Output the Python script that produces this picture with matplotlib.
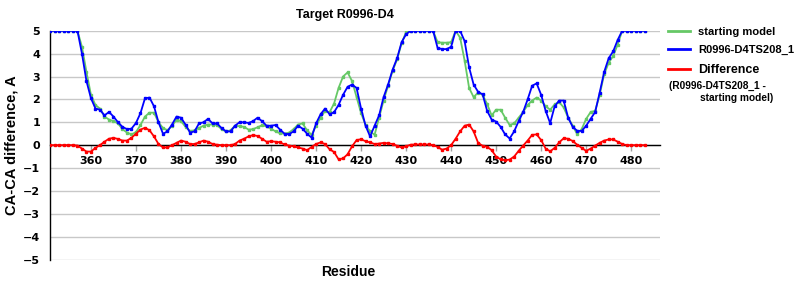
import matplotlib
matplotlib.use("Agg")
import matplotlib.pyplot as plt

# Residue numbers (categories)
residues = list(range(351, 484))

# CA-CA difference, starting model
starting_model = [
    5, 5, 5, 5, 5, 5, 5, 4.3, 3.2, 2.2,              # 351-360
    1.75, 1.6, 1.25, 1.12, 1.05, 0.95, 0.7, 0.55, 0.47, 0.57,  # 361-370
    0.88, 1.25, 1.42, 1.42, 1.0, 0.75, 0.65, 0.85, 1.1, 1.05,  # 371-380
    0.8, 0.62, 0.65, 0.75, 0.85, 0.9, 0.9, 0.88, 0.7, 0.6,     # 381-390
    0.65, 0.85, 0.83, 0.8, 0.68, 0.7, 0.78, 0.87, 0.82, 0.72,  # 391-400
    0.6, 0.52, 0.5, 0.55, 0.7, 0.9, 0.95, 0.65, 0.45, 0.85,    # 401-410
    1.2, 1.5, 1.44, 1.82, 2.5, 3.0, 3.18, 2.8, 2.1, 1.4,       # 411-420
    0.88, 0.6, 0.45, 1.2, 1.95, 2.6, 3.25, 3.75, 4.45, 4.95,   # 421-430
    5, 5, 5, 5, 5, 5, 4.5, 4.48, 4.48, 4.5,                    # 431-440
    5, 4.7, 3.7, 2.5, 2.1, 2.3, 2.2, 1.8, 1.3, 1.55,           # 441-450
    1.55, 1.2, 0.88, 0.95, 1.2, 1.45, 1.75, 1.95, 2.08, 1.95,  # 451-460
    1.7, 1.55, 1.78, 1.88, 1.65, 1.2, 0.85, 0.48, 0.7, 1.15,   # 461-470
    1.45, 1.5, 2.2, 3.1, 3.6, 3.9, 4.4, 5, 5, 5,               # 471-480
    5, 5, 5,                                                   # 481-483
]

# CA-CA difference, model R0996-D4TS208_1
model = [
    5, 5, 5, 5, 5, 5, 5, 4.0, 2.8, 2.05,             # 351-360
    1.6, 1.55, 1.3, 1.45, 1.25, 1.0, 0.8, 0.7, 0.72, 0.97,     # 361-370
    1.4, 2.05, 2.08, 1.7, 1.0, 0.5, 0.6, 0.9, 1.25, 1.2,       # 371-380
    0.9, 0.55, 0.6, 0.95, 1.0, 1.15, 0.95, 0.95, 0.75, 0.6,    # 381-390
    0.6, 0.85, 1.0, 1.0, 0.97, 1.05, 1.2, 1.05, 0.85, 0.85,    # 391-400
    0.88, 0.68, 0.5, 0.48, 0.6, 0.85, 0.72, 0.5, 0.33, 0.95,   # 401-410
    1.35, 1.6, 1.35, 1.44, 1.76, 2.2, 2.55, 2.65, 2.5, 1.6,    # 411-420
    0.85, 0.38, 0.85, 1.3, 2.1, 2.65, 3.3, 3.8, 4.5, 4.85,     # 421-430
    5, 5, 5, 5, 5, 5, 4.25, 4.2, 4.2, 4.3,                     # 431-440
    5, 5, 4.55, 3.4, 2.65, 2.33, 2.22, 1.5, 1.12, 1.03,        # 441-450
    0.8, 0.47, 0.29, 0.6, 1.05, 1.45, 2.0, 2.6, 2.7, 2.2,      # 451-460
    1.5, 0.96, 1.7, 1.95, 1.95, 1.2, 0.8, 0.63, 0.62, 0.85,    # 461-470
    1.15, 1.45, 2.3, 3.2, 3.8, 4.1, 4.6, 5, 5, 5,              # 471-480
    5, 5, 5,                                                   # 481-483
]

# Difference (model - starting model)
difference = [
    0, 0, 0, 0, 0, 0, -0.02, -0.15, -0.28, -0.28,              # 351-360
    -0.12, 0.0, 0.15, 0.28, 0.32, 0.27, 0.2, 0.2, 0.32, 0.5,   # 361-370
    0.68, 0.76, 0.65, 0.38, 0.05, -0.1, -0.1, 0.0, 0.1, 0.2,   # 371-380
    0.15, 0.05, 0.05, 0.12, 0.2, 0.15, 0.05, 0.02, 0.0, 0.0,   # 381-390
    0.0, 0.05, 0.2, 0.28, 0.38, 0.44, 0.4, 0.28, 0.15, 0.17,   # 391-400
    0.15, 0.12, 0.03, -0.02, -0.05, -0.1, -0.15, -0.22, -0.08, 0.05,  # 401-410
    0.12, 0.05, -0.18, -0.3, -0.62, -0.58, -0.4, -0.05, 0.22, 0.26,   # 411-420
    0.17, 0.12, 0.05, 0.07, 0.1, 0.08, 0.05, -0.03, -0.1, -0.05,      # 421-430
    0.02, 0.03, 0.03, 0.03, 0.03, 0.0, -0.08, -0.2, -0.15, 0.0,       # 431-440
    0.28, 0.6, 0.85, 0.9, 0.6, 0.1, -0.03, -0.07, -0.22, -0.5,        # 441-450
    -0.62, -0.66, -0.63, -0.5, -0.25, -0.02, 0.2, 0.45, 0.47, 0.22,   # 451-460
    -0.15, -0.27, -0.12, 0.12, 0.3, 0.28, 0.18, 0.02, -0.12, -0.25,   # 461-470
    -0.15, -0.02, 0.1, 0.2, 0.25, 0.25, 0.15, 0.05, 0, 0,             # 471-480
    0, 0, 0,                                                          # 481-483
]

x_ticks = [360, 370, 380, 390, 400, 410, 420, 430, 440, 450, 460, 470, 480]
y_ticks = [-5, -4, -3, -2, -1, 0, 1, 2, 3, 4, 5]

title = "Target R0996-D4"
series_labels = ["starting model", "R0996-D4TS208_1", "Difference"]
diff_note = ["(R0996-D4TS208_1 -", "starting model)"]

GREEN = "#66c866"
BLUE = "#0000ff"
RED = "#ff0000"
ARIAL = ["Liberation Sans", "DejaVu Sans"]

fig = plt.figure(figsize=(8, 3), dpi=100)
ax = fig.add_axes([50 / 800, 1 - 259.5 / 300, 610 / 800, (259.5 - 30.8) / 300])

ax.set_xlim(350.9, 486.4)
ax.set_ylim(-5, 5)

ax.plot(residues, starting_model, color=GREEN, lw=1.3, marker="s", ms=1.5,
        mec=GREEN, label=series_labels[0], zorder=3)
ax.plot(residues, model, color=BLUE, lw=1.3, marker="s", ms=1.5,
        mec=BLUE, label=series_labels[1], zorder=4)
ax.plot(residues, difference, color=RED, lw=1.3, marker="s", ms=1.5,
        mec=RED, label=series_labels[2], zorder=5)

# axes styling
ax.set_yticks(y_ticks)
ax.set_yticklabels([("\u2212%d" % -v) if v < 0 else "%d" % v for v in y_ticks])
ax.set_xticks(x_ticks)
ax.set_xticklabels([str(v) for v in x_ticks])
ax.grid(axis="y", color="#c8c8c8", lw=1.0, zorder=0)
ax.set_axisbelow(True)
for s in ("top", "right"):
    ax.spines[s].set_visible(False)
ax.spines["bottom"].set_position(("data", 0))
ax.spines["bottom"].set_color("black")
ax.spines["bottom"].set_linewidth(1.0)
ax.spines["bottom"].set_zorder(2)
ax.spines["left"].set_color("black")
ax.spines["left"].set_linewidth(1.0)
ax.tick_params(axis="x", direction="out", length=4, width=1, color="#a0a0a0",
               pad=3.5, labelsize=8)
ax.tick_params(axis="y", direction="out", length=0, pad=7, labelsize=8)
for lab in ax.get_xticklabels() + ax.get_yticklabels():
    lab.set_fontweight("bold")
    lab.set_family("DejaVu Sans")

ax.set_ylabel("CA-CA difference, A", fontsize=10.5, fontweight="bold", family=ARIAL)
ax.yaxis.set_label_coords(-0.052, 0.5)
ax.set_xlabel("Residue", fontsize=10, fontweight="bold", family=ARIAL)
ax.xaxis.set_label_coords(0.489, -0.025)

fig.text(345 / 800, 1 - 15 / 300, title, ha="center", va="center",
         fontsize=9, fontweight="bold", family=ARIAL)

leg = ax.legend(loc="upper left", bbox_to_anchor=(668 / 800, 1 - 27 / 300),
                bbox_transform=fig.transFigure, frameon=False,
                prop={"family": ARIAL, "weight": "bold", "size": 8},
                handlelength=2.0, handletextpad=0.7, labelspacing=0.75,
                borderpad=0, borderaxespad=0)
for h in leg.legend_handles:
    h.set_marker("")
    h.set_linewidth(2)
leg.get_texts()[2].set_fontsize(9)

fig.text(669 / 800, 1 - 86 / 300, diff_note[0], ha="left", va="center",
         fontsize=7.3, fontweight="bold", family=ARIAL)
fig.text(700 / 800, 1 - 98 / 300, diff_note[1], ha="left", va="center",
         fontsize=7.3, fontweight="bold", family=ARIAL)

fig.savefig("out.png", dpi=100)
